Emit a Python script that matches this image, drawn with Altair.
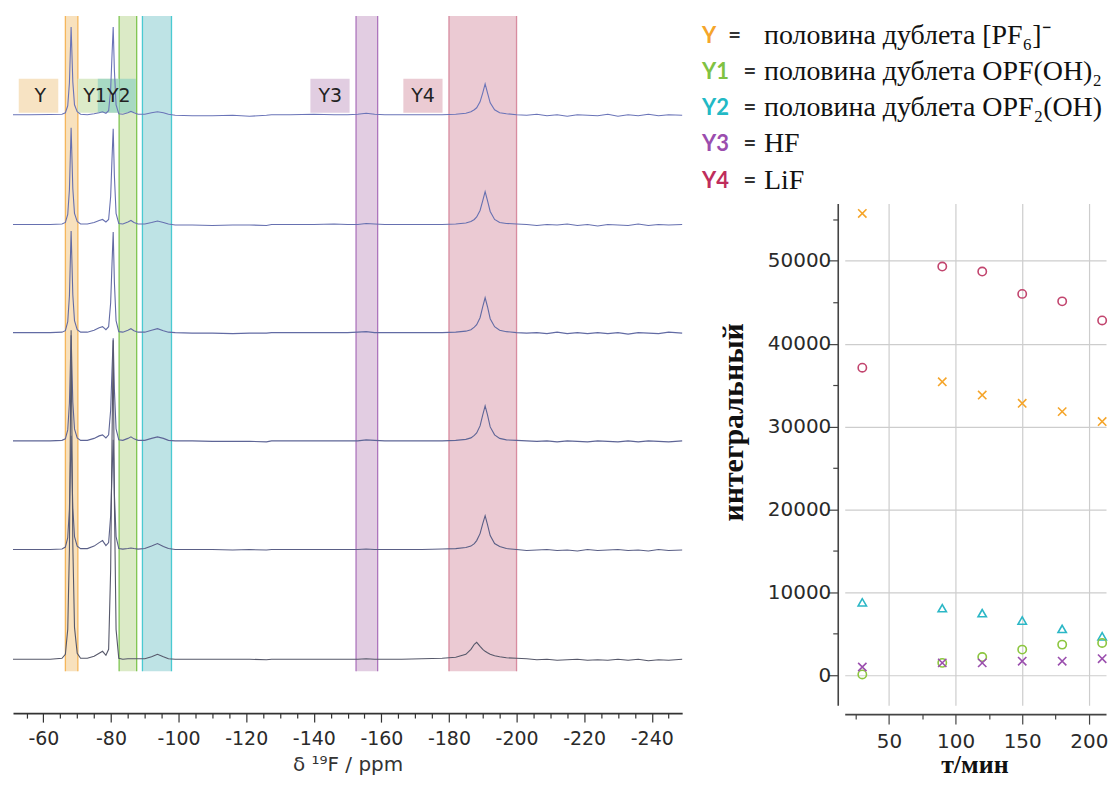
import altair as alt
import pandas as pd

# ---------------- spectra (left panel) ----------------
ppm = [-51, -56, -62, -65.5, -66.5, -67.2, -67.7, -68.2, -68.7, -69.2, -70, -71, -73, -75, -76.5,
       -77.5, -78.5, -79.3, -79.9, -80.3, -80.65, -81.0, -81.5, -82.3, -83.5, -85, -85.9, -86.8,
       -88, -90, -92, -93.75, -95.5, -97, -99, -104, -110, -116, -121, -126, -127.5, -133, -140,
       -146, -150, -153, -155.5, -158, -161, -166, -172, -178, -182, -185, -186.5, -187.5, -188.2,
       -189.2, -190, -190.7, -191.4, -192.2, -193.5, -195, -197, -200, -203, -206, -209, -212,
       -215, -218, -221, -224, -227, -230, -233, -236, -239, -242, -245, -249]

trace_1 = [0, 0, 0.3, 0.5, 2, 9, 32, 88, 33, 10, 3, 0.5, 0, 1, 2, 3, 1.5, 4, 25, 60, 88, 45, 10, 1,
           0.5, 2, 3.5, 2, 0.5, 0.5, 2, 3, 2, 0.5, -0.5, -1, -1, -0.5, -1.5, -0.5, 0, 0, 0.5, 0, 0,
           0.5, 1.5, 0.5, 0, 0, 0, 0, 0.5, 1.5, 3, 5, 7, 13, 22, 31, 22, 12, 5, 2, 1, 0, -0.5, 0.5,
           -1, 0, -1.5, 0, -0.5, -1, 0.5, -1.5, 0, -1, 0.5, -1, 0, -0.5]
trace_2 = [0, 0, 0, 0.5, 2, 10, 35, 97, 36, 11, 3, 0.5, 0.5, 2, 4, 5, 2.5, 5, 28, 66, 96, 49, 11, 1,
           0.5, 2.5, 4, 2, 0.5, 0.5, 2, 3.5, 2, 0.5, -0.5, -0.5, -1, -0.5, -0.5, -1, 0, 0, 0, 0.5,
           0, 0, 1, 0.5, 0, 0, 0, 0, 0.5, 1.5, 3, 5, 7.5, 14, 24, 33, 24, 13, 5, 2, 1, 0.5, 0, -1,
           0, -0.5, 0.5, -1, 0, -1.5, 0, -0.5, -1, 0.5, -1, 0, -0.5, 0]
trace_3 = [0, 0, 0, 0.5, 2, 11, 37, 102, 38, 12, 3, 0.5, 0.5, 2.5, 5, 6, 3, 6, 30, 69, 101, 51, 12,
           1, 0.5, 2.5, 4, 2, 0.5, 0.5, 2.5, 4, 2, 0.5, 0, -0.5, -0.5, -1, -0.5, -0.5, 0, 0, 0, 0,
           0, 0.5, 1, 0, 0, 0, 0, 0, 0.5, 1.5, 3, 5.5, 8, 15, 26, 35, 26, 14, 6, 2.5, 1, 0, -0.5, 0,
           -1, 0.5, -1, 0, -1, 0, -1, 0, -1.5, 0, -0.5, -1, 0.5, -0.5]
trace_4 = [0, 0, 0, 0.5, 2, 11, 38, 106, 39, 12, 3, 0.5, 0.5, 2.5, 5, 6, 3, 6, 31, 71, 103, 52, 12,
           1, 0.5, 2.5, 4, 2, 0.5, 0.5, 2.5, 4, 2.5, 0.5, 0, 0, -0.5, -0.5, -0.5, -1, 0, 0, 0, 0,
           0, 0, 1, 0.5, 0, 0, 0, 0, 0.5, 1.5, 3, 5.5, 8, 15, 26, 35, 26, 14, 6, 2.5, 1, 0.5, 0,
           -0.5, 0, -1, 0, -0.5, -1, 0, -0.5, -1, 0, -1, 0, -0.5, -1, 0]
trace_5 = [0, 0, 0, 0.5, 2.5, 12, 41, 114, 42, 13, 3.5, 1, 1, 3.5, 7, 9, 4, 7, 34, 76, 110, 56, 13,
           1, 0.5, 1, 1.5, 1, 0.5, 1, 3.5, 6, 3, 1, 0, 0, 0, -0.5, 0, -0.5, 0, 0, 0, 0, 0, 0, 0.5,
           0, 0, 0, 0, 0.5, 1, 2, 3.5, 6, 9, 16, 26, 34, 25, 14, 6, 3, 1, 0, -1, -0.5, 0, -1, -0.5,
           -1.5, 0, -1, -0.5, 0, -1, -0.5, -1.5, 0, -1, -0.5]
trace_6 = [0, 0, 0, 1, 5, 30, 110, 330, 115, 32, 6, 1, 1, 3, 6, 8, 4, 10, 90, 220, 320, 160, 30, 1,
           0, 0.5, 0.5, 0.5, 0.5, 0.5, 2.5, 5, 2.5, 0.5, 0, 0, 0, 0, 0, -0.5, 0, 0, 0, 0, 0, 0, 0.5,
           0, 0, 0, 0.5, 1, 2, 5, 10, 15, 17, 13, 10, 8, 6.5, 5, 3.5, 2.5, 1.5, 1, 0.5, -0.5, 0, -1,
           -0.5, 0, -1, -0.5, -1, 0, -1, 0, -1.5, -0.5, -1, 0]

traces = [trace_1, trace_2, trace_3, trace_4, trace_5, trace_6]
trace_names = ["30 мин", "90 мин", "120 мин", "150 мин", "180 мин", "210 мин"]
trace_offsets = [546, 436, 327.5, 219, 110, 0]
trace_colors = ["#6a74b8", "#6670b0", "#626ba4", "#5e6596", "#5a5f86", "#56586a"]

rows = []
for name, off, tr in zip(trace_names, trace_offsets, traces):
    for j, (p, v) in enumerate(zip(ppm, tr)):
        rows.append({"trace": name, "ppm": p, "value": v + off, "order": j})
spec_df = pd.DataFrame(rows)

# integration regions
band_names = ["Y", "Y1", "Y2", "Y3", "Y4"]
band_start = [-66.5, -82.4, -89.3, -152.5, -180.0]
band_end = [-70.2, -87.6, -97.9, -158.9, -200.0]
band_fill = ["#f8e1bd", "#dbeac6", "#bee3e5", "#e2cde2", "#ebcad3"]
band_edge = ["#f3ad45", "#6cbd38", "#2fc3cc", "#a263b5", "#d27c93"]
bands_df = pd.DataFrame({"name": band_names, "start": band_start, "end": band_end})

# label boxes (ppm)
box_labels = ["Y", "Y1", "Y2", "Y3", "Y4"]
box_start = [-52.7, -70.15, -76.1, -139.0, -166.5]
box_end = [-64.4, -82.4, -87.35, -150.6, -178.1]
box_text_ppm = [-59.1, -75.25, -82.3, -144.9, -172.3]
box_fill = ["#f7e3c3", "#dcebc9", "#7ccbc0", "#e1cde1", "#ebcbd3"]
box_opacity = [1, 1, 0.55, 1, 1]
boxes_df = pd.DataFrame({"label": box_labels, "start": box_start, "end": box_end,
                         "tx": box_text_ppm})

ppm_ticks = list(range(-55, -250, -5))

AXFONT = "DejaVu Sans"

x_left_scale = alt.Scale(domain=[-51, -249], nice=False, zero=False)
y_left_scale = alt.Scale(domain=[-54, 647], nice=False, zero=False)
x_left_axis = alt.Axis(
    values=ppm_ticks,
    labelExpr="datum.value % 20 === 0 ? '' + datum.value : ''",
    tickSize={"condition": {"test": "datum.value % 20 === 0", "value": 9}, "value": 5},
    title="δ ¹⁹F / ppm", titleFont=AXFONT, titleFontSize=20, titleFontWeight="normal",
    titleColor="#333", titleBaseline="alphabetic", titleY=58,
    labelFont=AXFONT, labelFontSize=19, labelColor="#2a2a2a", labelPadding=7,
    domainColor="#333", domainWidth=1.6, tickColor="#333", tickWidth=1.2, grid=False,
)

def xl(field):
    return alt.X(field, scale=x_left_scale, axis=x_left_axis)

def yl(field):
    return alt.Y(field, scale=y_left_scale, axis=None)

layers = []
for name, fill, edge in zip(band_names, band_fill, band_edge):
    base = alt.Chart(bands_df).transform_filter(alt.datum.name == name).transform_calculate(
        ylo="-12", yhi="645")
    layers.append(base.mark_rect(color=fill).encode(
        x=xl("start:Q"), x2="end:Q", y=yl("ylo:Q"), y2="yhi:Q"))
    layers.append(base.mark_rule(color=edge, strokeWidth=1.3, opacity=0.85).encode(
        x=xl("start:Q"), y=yl("ylo:Q"), y2="yhi:Q"))
    layers.append(base.mark_rule(color=edge, strokeWidth=1.3, opacity=0.85).encode(
        x=xl("end:Q"), y=yl("ylo:Q"), y2="yhi:Q"))

for lab, fill, op in zip(box_labels, box_fill, box_opacity):
    base = alt.Chart(boxes_df).transform_filter(alt.datum.label == lab).transform_calculate(
        ylo="548", yhi="582")
    layers.append(base.mark_rect(color=fill, opacity=op).encode(
        x=xl("start:Q"), x2="end:Q", y=yl("ylo:Q"), y2="yhi:Q"))

layers.append(alt.Chart(spec_df).mark_line(strokeWidth=1.1).encode(
    x=xl("ppm:Q"), y=yl("value:Q"),
    color=alt.Color("trace:N", scale=alt.Scale(domain=trace_names, range=trace_colors),
                    legend=None),
    order="order:Q",
))

layers.append(alt.Chart(boxes_df).transform_calculate(ty="565").mark_text(
    font=AXFONT, fontSize=19, color="#222", baseline="middle", align="center").encode(
    x=xl("tx:Q"), y=yl("ty:Q"), text="label:N"))

left = alt.layer(*layers).properties(width=671, height=701)

# ---------------- legend text (top right) ----------------
legend_keys = ["Y", "Y1", "Y2", "Y3", "Y4"]
legend_key_colors = ["#f5a52a", "#80c242", "#22b9c5", "#9b4dae", "#bf2d5c"]
legend_desc = ["половина дублета [PF₆]⁻", "половина дублета OPF(OH)₂",
               "половина дублета OPF₂(OH)", "HF", "LiF"]
legend_df = pd.DataFrame({"row": [0, 1, 2, 3, 4], "key": legend_keys, "desc": legend_desc})
y_leg = alt.Y("row:Q", scale=alt.Scale(domain=[0, 4], range=[22, 167]), axis=None)

leg_layers = []
for k, col in zip(legend_keys, legend_key_colors):
    leg_layers.append(alt.Chart(legend_df).transform_filter(alt.datum.key == k).mark_text(
        align="left", baseline="middle", font="Lato", fontWeight="bold", fontSize=22,
        color=col).encode(x=alt.value(-143), y=y_leg, text="key:N"))
leg_layers.append(alt.Chart(legend_df).transform_filter("datum.row === 0").mark_text(
    align="center", baseline="middle", font="Lato", fontWeight="bold", fontSize=22,
    color="#333", text="=").encode(x=alt.value(-110.5), y=y_leg))
leg_layers.append(alt.Chart(legend_df).transform_filter("datum.row > 0").mark_text(
    align="center", baseline="middle", font="Lato", fontWeight="bold", fontSize=22,
    color="#333", text="=").encode(x=alt.value(-95), y=y_leg))
leg_layers.append(alt.Chart(legend_df).mark_text(
    align="left", baseline="middle", font="Liberation Serif", fontSize=28,
    color="#111").encode(x=alt.value(-81), y=y_leg, text="desc:N"))

legend_chart = alt.layer(*leg_layers).properties(width=262, height=180)

# ---------------- scatter (right panel) ----------------
time_min = [30, 90, 120, 150, 180, 210]
y_pf6 = [55700, 35400, 33800, 32800, 31800, 30600]
y_lif = [37100, 49300, 48700, 46000, 45100, 42800]
y_opf2oh = [8800, 8100, 7500, 6600, 5600, 4700]
y_opfoh2 = [100, 1500, 2200, 3100, 3700, 3900]
y_hf = [1000, 1500, 1500, 1700, 1700, 2000]

series_names = ["Y", "Y4", "Y2", "Y1", "Y3"]
series_values = [y_pf6, y_lif, y_opf2oh, y_opfoh2, y_hf]
series_colors = ["#f5a52a", "#c2456e", "#2bb7c6", "#8cc63f", "#9b4fae"]
xpath = "M-1,-1L1,1M-1,1L1,-1"
series_shapes = [xpath, "circle", "triangle-up", "circle", xpath]

sc_rows = []
for s, vals in zip(series_names, series_values):
    for t, v in zip(time_min, vals):
        sc_rows.append({"series": s, "time": t, "value": v})
sc_df = pd.DataFrame(sc_rows)

x_ticks = [25, 50, 75, 100, 125, 150, 175, 200]
y_ticks = [0, 5000, 10000, 15000, 20000, 25000, 30000, 35000, 40000, 45000, 50000, 55000]

x_sc = alt.X("time:Q", scale=alt.Scale(domain=[16.8, 212.9], nice=False, zero=False),
             axis=alt.Axis(
                 values=x_ticks,
                 labelExpr="datum.value % 50 === 0 ? datum.label : ''",
                 tickSize={"condition": {"test": "datum.value % 50 === 0", "value": 10}, "value": 5},
                 gridOpacity={"condition": {"test": "datum.value % 50 === 0", "value": 1}, "value": 0},
                 grid=True, gridColor="#cdcdcd", gridWidth=1.2, offset=9,
                 labelFont=AXFONT, labelFontSize=20, labelColor="#2a2a2a", labelPadding=7,
                 domainColor="#444", domainWidth=1.6, tickColor="#444", tickWidth=1.2,
                 title="т/мин", titleFont="Liberation Serif", titleFontWeight="bold",
                 titleFontSize=26, titleColor="#111", titleX=130, titleY=59,
                 titleBaseline="alphabetic", titleAlign="center"))
y_sc = alt.Y("value:Q", scale=alt.Scale(domain=[-3600, 56900], nice=False, zero=False),
             axis=alt.Axis(
                 values=y_ticks, format="d",
                 labelExpr="datum.value % 10000 === 0 ? datum.label : ''",
                 tickSize={"condition": {"test": "datum.value % 10000 === 0", "value": 10}, "value": 5},
                 gridOpacity={"condition": {"test": "datum.value % 10000 === 0", "value": 1}, "value": 0},
                 grid=True, gridColor="#cdcdcd", gridWidth=1.2, offset=7,
                 labelFont=AXFONT, labelFontSize=20, labelColor="#2a2a2a", labelPadding=-3,
                 domainColor="#444", domainWidth=1.6, tickColor="#444", tickWidth=1.2,
                 title="интегральный", titleFont="Liberation Serif", titleFontWeight="bold",
                 titleFontSize=30, titleColor="#111", titleX=-95, titleY=219,
                 titleAngle=-90, titleBaseline="alphabetic", titleAlign="center"))

sc_layers = []
for s, col, shp in zip(series_names, series_colors, series_shapes):
    sc_layers.append(alt.Chart(sc_df).transform_filter(alt.datum.series == s).mark_point(
        filled=False, strokeWidth=1.6, size=70, opacity=1, color=col, shape=shp).encode(
        x=x_sc, y=y_sc))

scatter = alt.layer(*sc_layers).properties(width=262, height=503)

right_col = alt.vconcat(legend_chart, scatter, spacing=10, bounds="flush")

chart = alt.hconcat(left, right_col, spacing=163, bounds="flush").properties(
    padding={"left": 2, "top": 5, "right": 0, "bottom": 0}
).configure_view(strokeWidth=0)

chart.save("out.html", embed_options={"renderer": "svg", "actions": False})
